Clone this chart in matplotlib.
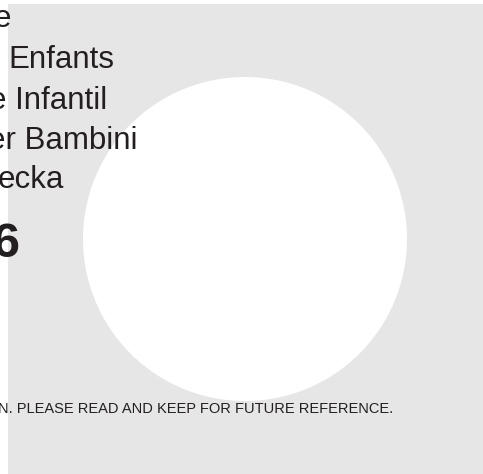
import matplotlib
matplotlib.use('Agg')
import matplotlib.pyplot as plt
from matplotlib.patches import Rectangle, Circle

# visible fragments of the cover text
title_lines = ['e', 'Enfants', 'e Infantil', 'er Bambini', 'ecka']
title_right = [11, 114, 107, 138, 64]
title_base = [27, 68, 109, 149, 188]
year_text = '6'
footer_text = 'N. PLEASE READ AND KEEP FOR FUTURE REFERENCE.'

W, H = 483, 474
fig = plt.figure(figsize=(W / 100, H / 100), dpi=100)
ax = fig.add_axes([0, 0, 1, 1])
ax.set_xlim(0, W)
ax.set_ylim(H, 0)
ax.axis('off')

ax.add_patch(Rectangle((8, 4), W, H, color='#e6e6e6', lw=0))
ax.add_patch(Circle((245, 239), 162, color='white', lw=0))

txtc = '#231f20'
for s, xr, yb in zip(title_lines, title_right, title_base):
    ax.text(xr, yb, s, ha='right', va='baseline', fontsize=22.5,
            family='Liberation Sans', color=txtc)
ax.text(19, 257, year_text, ha='right', va='baseline', fontsize=35,
        family='Liberation Sans', fontweight='bold', color=txtc)
ax.text(393, 413, footer_text, ha='right', va='baseline', fontsize=10.5,
        family='Liberation Sans', color=txtc)

fig.savefig('out.png', dpi=100)
